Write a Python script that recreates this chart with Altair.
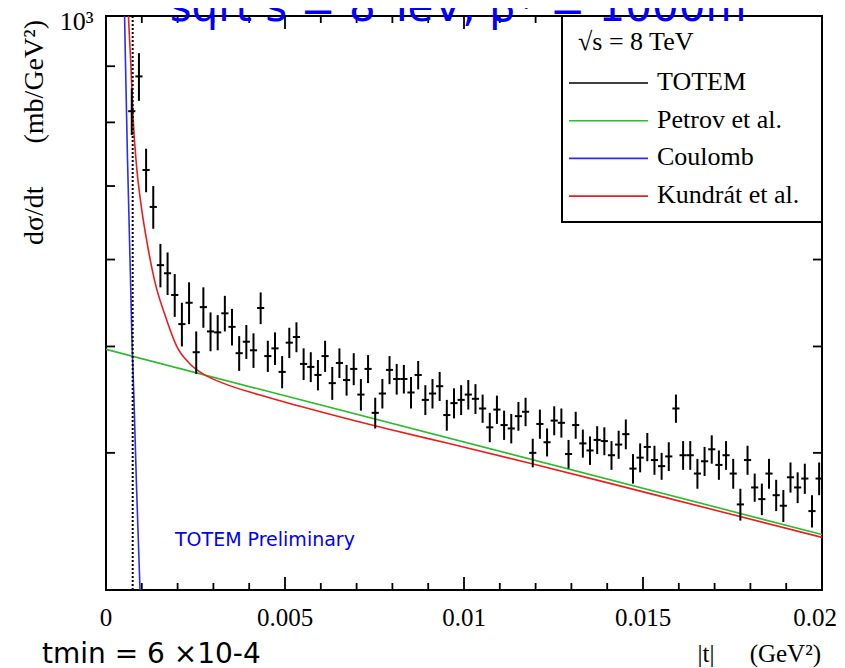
import altair as alt
import pandas as pd

# ---------------- data ----------------
t_bins = [
    0.00072, 0.00092, 0.00112, 0.00132, 0.00152, 0.00172, 0.00192, 0.00212, 0.00232, 0.00252,
    0.00272, 0.00292, 0.00312, 0.00332, 0.00352, 0.00372, 0.00392, 0.00412, 0.00432, 0.00452,
    0.00472, 0.00492, 0.00512, 0.00532, 0.00552, 0.00572, 0.00592, 0.00612, 0.00632, 0.00652,
    0.00672, 0.00692, 0.00712, 0.00732, 0.00752, 0.00772, 0.00792, 0.00812, 0.00832, 0.00852,
    0.00872, 0.00892, 0.00912, 0.00932, 0.00952, 0.00972, 0.00992, 0.01012, 0.01032, 0.01052,
    0.01072, 0.01092, 0.01112, 0.01132, 0.01152, 0.01172, 0.01192, 0.01212, 0.01232, 0.01252,
    0.01272, 0.01292, 0.01312, 0.01332, 0.01352, 0.01372, 0.01392, 0.01412, 0.01432, 0.01452,
    0.01472, 0.01492, 0.01512, 0.01532, 0.01552, 0.01572, 0.01592, 0.01612, 0.01632, 0.01652,
    0.01672, 0.01692, 0.01712, 0.01732, 0.01752, 0.01772, 0.01792, 0.01812, 0.01832, 0.01852,
    0.01872, 0.01892, 0.01912, 0.01932, 0.01952, 0.01972, 0.01992,
]
dsdt = [
    819, 881, 724, 670, 593, 583, 557, 524, 548, 494,
    543, 516, 515, 536, 521, 493, 505, 496, 542, 490,
    498, 474, 504, 510, 482, 479, 471, 490, 463, 483,
    466, 477, 452, 477, 435, 453, 476, 467, 467, 454,
    471, 447, 453, 460, 433, 444, 447, 452, 448, 439,
    422, 438, 424, 421, 432, 436, 400, 425, 409, 428,
    426, 399, 424, 408, 402, 411, 410, 398, 407, 416,
    387, 396, 405, 394, 389, 397, 439, 398, 398, 383,
    393, 403, 390, 398, 383, 359, 394, 372, 363, 383,
    366, 358, 380, 372, 379, 354, 379,
]
dsdt_err = [
    40, 44, 33, 30, 27, 26, 25, 24, 24, 22,
    23, 21, 19, 20, 20, 18, 18, 18, 18, 16,
    17, 16, 16, 16, 16, 15, 15, 16, 16, 15,
    15, 16, 15, 14, 14, 14, 14, 15, 14, 15,
    14, 14, 14, 14, 14, 14, 14, 14, 14, 13,
    13, 13, 13, 13, 13, 13, 12, 13, 12, 13,
    13, 12, 12, 12, 12, 12, 12, 12, 12, 13,
    12, 12, 12, 12, 11, 12, 13, 12, 12, 12,
    12, 12, 12, 12, 12, 12, 12, 11, 12, 12,
    12, 12, 12, 12, 12, 12, 13,
]
t_half_bin = 0.0001

petrov_t = [0.0, 0.0043, 0.02]
petrov_v = [497, 457, 337]

coulomb_t = [0.0005, 0.00054, 0.0006, 0.00066, 0.00073, 0.00078, 0.00085, 0.00095, 0.001]
coulomb_v = [1080, 921, 742, 620, 500, 449, 375, 300, 270]

kundrat_t = [0.0006, 0.000628, 0.0007, 0.00075, 0.00085, 0.00098, 0.001173, 0.001369,
             0.001648, 0.001983, 0.002346, 0.00271, 0.003268, 0.004302, 0.00542,
             0.007933, 0.00961, 0.011844, 0.0152, 0.02]
kundrat_v = [1060, 1000, 895, 815, 732, 673, 615, 572, 534, 499.5, 482, 472, 463, 451.5, 441,
             420, 407.7, 391.4, 367.2, 335]

t_marker = 0.000745

series_names = ["TOTEM", "Petrov et al.", "Coulomb", "Kundrát et al."]
series_colors = ["#000000", "#2dbb2d", "#2b2bff", "#ee1d1d"]

x_labels = [0, 0.005, 0.01, 0.015, 0.02]
x_label_text = ["0", "0.005", "0.01", "0.015", "0.02"]
x_major_ticks = [0.005, 0.01, 0.015]
x_minor_ticks = [0.001, 0.002, 0.003, 0.004, 0.006, 0.007, 0.008, 0.009,
                 0.011, 0.012, 0.013, 0.014, 0.016, 0.017, 0.018, 0.019]
y_minor_ticks = [400, 500, 600, 700, 800, 900]
y_label_value = [1000]

title_text = "sqrt s = 8 TeV, β* = 1000m"
prelim_text = "TOTEM Preliminary"
tmin_text = "tmin = 6 ×10-4"
legend_title = "√s = 8 TeV"

# ---------------- frames ----------------
pts = pd.DataFrame({"t": t_bins, "v": dsdt, "e": dsdt_err})
pts["lo"] = pts["v"] - pts["e"]
pts["hi"] = pts["v"] + pts["e"]
pts["tl"] = pts["t"] - t_half_bin
pts["tr"] = pts["t"] + t_half_bin

petrov_df = pd.DataFrame({"t": petrov_t, "v": petrov_v})
coulomb_df = pd.DataFrame({"t": coulomb_t, "v": coulomb_v})
kundrat_df = pd.DataFrame({"t": kundrat_t, "v": kundrat_v})

XS = alt.Scale(domain=[0, 0.02], nice=False, zero=False)
YS = alt.Scale(type="log", domain=[300, 1000], nice=False)

SERIF = "Liberation Serif"
SANS = "DejaVu Sans"

y_axis = alt.Axis(values=y_label_value, labelExpr="'10³'", ticks=False, tickSize=0,
                  domain=False, grid=False, labelFont=SERIF, labelFontSize=26,
                  labelPadding=13, labelOffset=5, labelColor="black", title=None)


def X(field):
    return alt.X(field, type="quantitative", scale=XS, axis=None)


def Y(field):
    return alt.Y(field, type="quantitative", scale=YS, axis=y_axis)


one = pd.DataFrame({"k": [0]})
layers = []

# model curves
layers.append(alt.Chart(petrov_df).mark_line(clip=True, strokeWidth=1.6, color=series_colors[1])
              .encode(x=X("t"), y=Y("v")))
layers.append(alt.Chart(coulomb_df).mark_line(clip=True, strokeWidth=1.6, color=series_colors[2])
              .encode(x=X("t"), y=Y("v")))
layers.append(alt.Chart(kundrat_df).mark_line(clip=True, strokeWidth=1.6, color=series_colors[3],
                                              interpolate="monotone")
              .encode(x=X("t"), y=Y("v")))

# dotted t marker
layers.append(alt.Chart(one).mark_rule(strokeDash=[2, 2], strokeWidth=2, color="black")
              .encode(x=alt.X(datum=t_marker, type="quantitative", scale=XS, axis=None)))

# data points with error bars
layers.append(alt.Chart(pts).mark_rule(clip=True, strokeWidth=2, color="black")
              .encode(x=X("t"), y=Y("lo"), y2="hi"))
layers.append(alt.Chart(pts).mark_rule(clip=True, strokeWidth=2, color="black")
              .encode(x=X("tl"), x2="tr", y=Y("v")))

# inward ticks
xmin_df = pd.DataFrame({"v": x_minor_ticks})
xmaj_df = pd.DataFrame({"v": x_major_ticks})
ymin_df = pd.DataFrame({"v": y_minor_ticks})
for df, a, b in [(xmin_df, 574, 567), (xmin_df, 0, 7), (xmaj_df, 574, 561), (xmaj_df, 0, 13)]:
    layers.append(alt.Chart(df).mark_rule(strokeWidth=1.8, color="black")
                  .encode(x=X("v"), y=alt.value(a), y2=alt.value(b)))
for a, b in [(0, 9), (716, 707)]:
    layers.append(alt.Chart(ymin_df).mark_rule(strokeWidth=1.8, color="black")
                  .encode(y=Y("v"), x=alt.value(a), x2=alt.value(b)))

# x tick labels
xl_df = pd.DataFrame({"v": x_labels, "s": x_label_text})
layers.append(alt.Chart(xl_df.iloc[:-1]).mark_text(align="center", baseline="alphabetic",
                                                   font=SERIF, fontSize=25, color="black")
              .encode(x=X("v"), y=alt.value(610), text="s:N"))
layers.append(alt.Chart(xl_df.iloc[-1:]).mark_text(align="right", baseline="alphabetic", dx=15,
                                                   font=SERIF, fontSize=25, color="black")
              .encode(x=X("v"), y=alt.value(610), text="s:N"))

# legend box
layers.append(alt.Chart(one).mark_rect(fill="white", stroke="black", strokeWidth=2)
              .encode(x=alt.value(456), x2=alt.value(716), y=alt.value(0), y2=alt.value(206)))
layers.append(alt.Chart(pd.DataFrame({"s": [legend_title]}))
              .mark_text(align="left", baseline="alphabetic", font=SERIF, fontSize=26, color="black")
              .encode(text="s:N", x=alt.value(472), y=alt.value(34)))
for i, (name, col) in enumerate(zip(series_names, series_colors)):
    yy = 67 + 37.7 * i
    layers.append(alt.Chart(one).mark_rule(strokeWidth=1.6, color=col)
                  .encode(x=alt.value(463), x2=alt.value(542), y=alt.value(yy)))
    layers.append(alt.Chart(pd.DataFrame({"s": [name]}))
                  .mark_text(align="left", baseline="alphabetic", font=SERIF, fontSize=26, color="black")
                  .encode(text="s:N", x=alt.value(551), y=alt.value(yy + 7)))


# texts
def txt(s, **kw):
    enc = {k: kw.pop(k) for k in ["x", "y"]}
    return (alt.Chart(pd.DataFrame({"s": [s]})).mark_text(**kw)
            .encode(text="s:N", x=alt.value(enc["x"]), y=alt.value(enc["y"])))


layers.append(txt(title_text, x=352, y=4.7, align="center", baseline="alphabetic",
                  font=SANS, fontSize=42, color="#0000ff"))
layers.append(txt(prelim_text, x=69, y=530, align="left", baseline="alphabetic",
                  font=SANS, fontSize=19, color="#0000ff"))
layers.append(txt(tmin_text, x=-64, y=647, align="left", baseline="alphabetic",
                  font=SANS, fontSize=28, color="black"))
layers.append(txt("|t|", x=600, y=646, align="center", baseline="alphabetic",
                  font=SERIF, fontSize=25, color="black"))
layers.append(txt("(GeV²)", x=715, y=646, align="right", baseline="alphabetic",
                  font=SERIF, fontSize=25, color="black"))
layers.append(txt("(mb/GeV²)", x=-63, y=4, align="right", baseline="alphabetic",
                  font=SERIF, fontSize=28, color="black", angle=270))
layers.append(txt("dσ/dt", x=-63, y=229, align="left", baseline="alphabetic",
                  font=SERIF, fontSize=28, color="black", angle=270))

chart = (
    alt.layer(*layers)
    .properties(width=716, height=574, background="white",
                autosize=alt.AutoSizeParams(type="none"),
                padding={"left": 98, "top": 8, "right": 15, "bottom": 78})
    .configure_view(stroke="black", strokeWidth=2)
)

chart.save("out.html", embed_options={"renderer": "svg", "actions": False})
